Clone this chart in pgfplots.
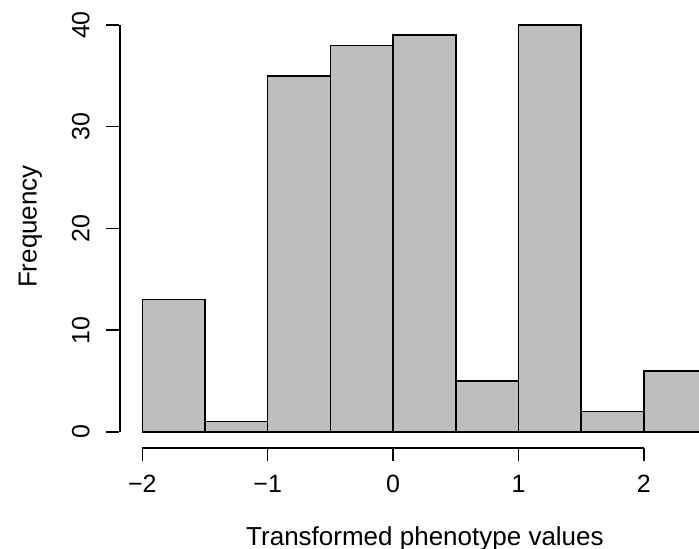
\documentclass[border=0pt]{standalone}
\usepackage{fontspec}
\setmainfont{Liberation Sans}
\usepackage{pgfplots}
\pgfplotsset{compat=1.18}
\definecolor{rgray}{RGB}{190,190,190}
\begin{document}
\begin{tikzpicture}
\begin{axis}[
  scale only axis,
  width=289.85pt, height=224pt,
  xmin=-2.183, xmax=2.439, ymin=-1.59, ymax=42.46,
  axis x line*=bottom, axis y line*=left,
  x axis line style={black, line width=0.75pt, shorten <=11.48pt, shorten >=27.53pt},
  y axis line style={black, line width=0.75pt, shorten <=8.09pt, shorten >=12.51pt},
  tick align=outside, major tick length=6.5pt,
  major tick style={black, line width=0.75pt},
  xtick={-2,-1,0,1,2}, xticklabels={−2,−1,0,1,2},
  ytick={0,10,20,30,40}, yticklabels={0,10,20,30,40},
  /pgf/number format/assume math mode=true,
  tick label style={font=\fontsize{12.5pt}{14pt}\selectfont},
  xticklabel style={anchor=north, inner sep=0pt},
  xticklabel shift=7pt,
  yticklabel style={rotate=90, anchor=south, inner sep=0pt},
  yticklabel shift=8.15pt,
  xlabel={Transformed phenotype values},
  ylabel={Frequency},
  label style={font=\fontsize{13pt}{15pt}\selectfont},
  xlabel style={at={(axis description cs:0.5273,-0.2165)}, anchor=base},
  ylabel style={at={(axis description cs:-0.1427,0.4944)}, anchor=base},
]
\addplot[ybar interval, fill=rgray, draw=black, line width=0.75pt] coordinates {
(-2,13) (-1.5,1) (-1,35) (-0.5,38) (0,39) (0.5,5) (1,40) (1.5,2) (2,6) (2.5,6)};
\coordinate (ya) at (axis cs:-2.183,0);
\coordinate (yb) at (axis cs:-2.183,40);
\coordinate (SW) at (rel axis cs:0,0);
\coordinate (NE) at (rel axis cs:1,1);
\end{axis}
\draw[line width=0.8pt] ([xshift=0.2pt]ya) -- ([xshift=0.2pt]yb);
\pgfresetboundingbox
\path (SW) ++(-59.65pt,-50pt) rectangle (NE);
\end{tikzpicture}
\end{document}
